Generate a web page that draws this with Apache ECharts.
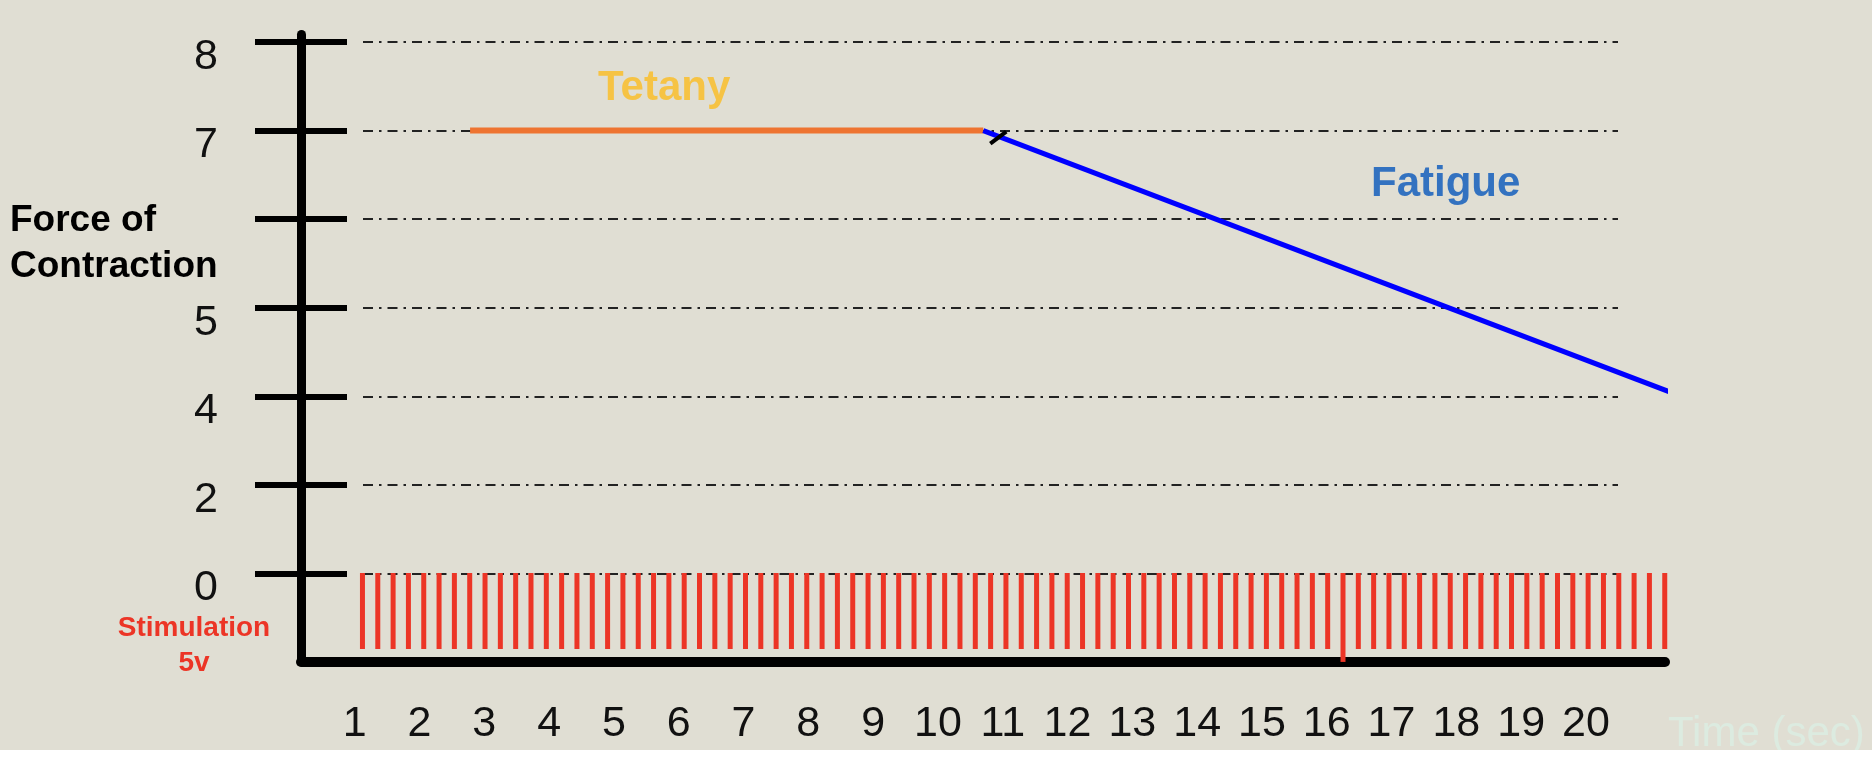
<!DOCTYPE html>
<html>
<head>
<meta charset="utf-8">
<script src="https://cdn.jsdelivr.net/npm/echarts@6/dist/echarts.min.js"></script>
<style>
  html, body { margin: 0; padding: 0; background: #ffffff; }
  #chart { width: 1872px; height: 750px; }
</style>
</head>
<body>
<div id="chart"></div>
<script>
// ---- data ----
const timeLabels = [1, 2, 3, 4, 5, 6, 7, 8, 9, 10, 11, 12, 13, 14, 15, 16, 17, 18, 19, 20];
const forceTickLabels = ['0', '2', '4', '5', '', '7', '8'];
const tetanyTime = [2.78, 10.70];
const tetanyForce = [7, 7];
const fatigueTime = [10.70, 21.47];
const fatigueForce = [7, 4];
const stimulusVolts = [
  5, 5, 5, 5, 5, 5, 5, 5, 5, 5,
  5, 5, 5, 5, 5, 5, 5, 5, 5, 5,
  5, 5, 5, 5, 5, 5, 5, 5, 5, 5,
  5, 5, 5, 5, 5, 5, 5, 5, 5, 5,
  5, 5, 5, 5, 5, 5, 5, 5, 5, 5,
  5, 5, 5, 5, 5, 5, 5, 5, 5, 5,
  5, 5, 5, 5, 5.85, 5, 5, 5, 5, 5,
  5, 5, 5, 5, 5, 5, 5, 5, 5, 5,
  5, 5, 5, 5, 5, 5
];

// force value -> position on the (unevenly labelled) force axis
function forcePos(v) { return forceTickLabels.indexOf(String(v)); }
const forceTickPos = forceTickLabels.map((_, i) => i);
const pulseIds = stimulusVolts.map((_, i) => i + 1);

const FONT = 'Liberation Sans, Arial, Helvetica, sans-serif';

const chart = echarts.init(document.getElementById('chart'), null, { renderer: 'canvas' });

const option = {
  backgroundColor: '#E0DED3',
  animation: false,
  title: [
    { text: 'Force of\nContraction', left: 10, top: 198, padding: 0,
      textStyle: { fontFamily: FONT, fontWeight: 'bold', fontSize: 37, lineHeight: 46, color: '#000' } },
    { text: 'Tetany', left: 598, top: 67, padding: 0,
      textStyle: { fontFamily: FONT, fontWeight: 'bold', fontSize: 42, lineHeight: 42, color: '#F6C344' } },
    { text: 'Fatigue', left: 1371, top: 163, padding: 0,
      textStyle: { fontFamily: FONT, fontWeight: 'bold', fontSize: 42, lineHeight: 42, color: '#3372C0' } },
    { text: 'Stimulation\n5v', left: 194, top: 611, padding: 0, textAlign: 'center',
      textStyle: { fontFamily: FONT, fontWeight: 'bold', fontSize: 28, lineHeight: 35, color: '#EC3526', align: 'center' } },
    { text: 'Time (sec)', left: 1668, top: 713, padding: 0,
      textStyle: { fontFamily: FONT, fontWeight: 'normal', fontSize: 42, lineHeight: 42, color: '#DCEBE0' } }
  ],
  grid: [
    { left: 301, right: 207, top: 34.5, bottom: 88, outerBoundsMode: 'none', containLabel: false },
    { left: 363, right: 254, top: 42, bottom: 88, outerBoundsMode: 'none', containLabel: false },
    { left: 354.8, right: 199.6, top: 573, height: 91.2, outerBoundsMode: 'none', containLabel: false }
  ],
  xAxis: [
    { gridIndex: 0, type: 'value', min: 0.171, max: 21.22, position: 'bottom',
      axisLine: { show: true, onZero: false, lineStyle: { color: '#000', width: 10 } },
      axisTick: { show: false }, splitLine: { show: false },
      axisLabel: { customValues: timeLabels, fontFamily: FONT, fontSize: 43, color: '#111',
                   margin: 62, verticalAlign: 'middle' } },
    { gridIndex: 1, type: 'value', min: 0, max: 1, show: false },
    { gridIndex: 2, type: 'category', data: pulseIds, boundaryGap: true, show: false }
  ],
  yAxis: [
    { gridIndex: 0, type: 'value', position: 'left', min: -1, max: 6.085,
      axisLine: { show: true, onZero: false, lineStyle: { color: '#000', width: 9 } },
      axisTick: { show: true, customValues: forceTickPos, length: 46, lineStyle: { color: '#000', width: 6 } },
      axisLabel: { show: true, customValues: forceTickPos, formatter: v => forceTickLabels[Math.round(v)],
                   margin: 83, fontFamily: FONT, fontSize: 43, color: '#111',
                   verticalAlign: 'top', lineHeight: 30 },
      splitLine: { show: false } },
    { gridIndex: 0, type: 'value', position: 'left', offset: 0, min: -1, max: 6.085,
      axisLine: { show: false, onZero: false },
      axisTick: { show: true, inside: true, customValues: forceTickPos, length: 46, lineStyle: { color: '#000', width: 6 } },
      axisLabel: { show: false }, splitLine: { show: false } },
    { gridIndex: 1, type: 'value', min: -1, max: 6, interval: 1,
      axisLine: { show: false }, axisTick: { show: false }, axisLabel: { show: false },
      splitLine: { show: true, showMinLine: false, lineStyle: { color: '#222', width: 2, type: [10, 6, 2.5, 6] } } },
    { gridIndex: 2, type: 'value', inverse: true, min: 0, max: 6, show: false }
  ],
  series: [
    { name: 'Tetany', type: 'line', xAxisIndex: 0, yAxisIndex: 0, z: 3,
      data: tetanyTime.map((t, i) => [t, forcePos(tetanyForce[i])]),
      symbol: 'none', lineStyle: { color: '#EE7431', width: 6 } },
    { name: 'Fatigue', type: 'line', xAxisIndex: 0, yAxisIndex: 0, z: 4, clip: false,
      data: fatigueTime.map((t, i) => [t, forcePos(fatigueForce[i])]),
      symbol: 'none', lineStyle: { color: '#0000FF', width: 5 },
      markPoint: {
        silent: true, label: { show: false },
        data: [{ coord: [fatigueTime[0], forcePos(fatigueForce[0])], symbol: 'rect',
                 symbolSize: [20, 4], symbolRotate: 37, symbolOffset: [15, 7],
                 itemStyle: { color: '#000' } }]
      } },
    { name: 'Stimulation 5v', type: 'bar', xAxisIndex: 2, yAxisIndex: 3, z: 5,
      data: stimulusVolts, barWidth: 5, itemStyle: { color: '#EC3526' } }
  ]
};

chart.setOption(option);
</script>
</body>
</html>
